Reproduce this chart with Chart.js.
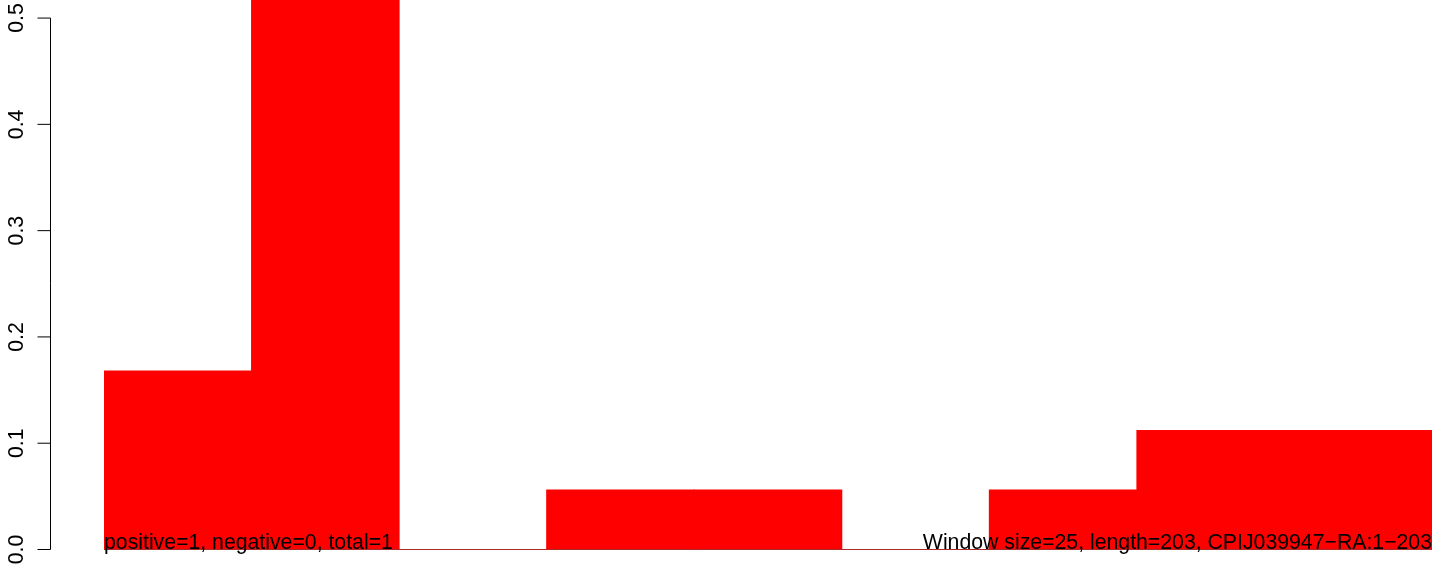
<!DOCTYPE html>
<html>
<head>
<meta charset="utf-8">
<script src="https://cdn.jsdelivr.net/npm/chart.js@4/dist/chart.umd.min.js"></script>
<style>
  html, body { margin: 0; padding: 0; background: #ffffff; }
  canvas { display: block; }
</style>
</head>
<body>
<canvas id="c" width="1444" height="571"></canvas>
<script>
// ---- data ----
const categories = ["1", "2", "3", "4", "5", "6", "7", "8", "9"];
const values = [0.168, 0.556, 0, 0.056, 0.056, 0, 0.056, 0.112, 0.112];
const yTicks = [0, 0.1, 0.2, 0.3, 0.4, 0.5];
const yTickLabels = ["0.0", "0.1", "0.2", "0.3", "0.4", "0.5"];
const leftNote = "positive=1, negative=0, total=1";
const rightNote = "Window size=25, length=203, CPIJ039947\u2212RA:1\u2212203";

const FONT = '21.25px "Liberation Sans", Arial, Helvetica, sans-serif';

const rAxisPlugin = {
  id: 'rAxis',
  beforeDatasetsDraw(chart) {
    const ctx = chart.ctx;
    const y = chart.scales.y;
    const area = chart.chartArea;
    const y0 = y.getPixelForValue(0);
    ctx.save();
    ctx.strokeStyle = '#555555';
    ctx.lineWidth = 1;
    ctx.beginPath();
    ctx.moveTo(area.left, y0);
    ctx.lineTo(area.right, y0);
    ctx.stroke();
    ctx.restore();
  },
  afterDatasetsDraw(chart) {
    const ctx = chart.ctx;
    const y = chart.scales.y;
    const area = chart.chartArea;
    const axisX = area.left - 53.5;
    ctx.save();
    ctx.strokeStyle = '#000000';
    ctx.lineWidth = 1;
    ctx.beginPath();
    ctx.moveTo(axisX, y.getPixelForValue(yTicks[0]));
    ctx.lineTo(axisX, y.getPixelForValue(yTicks[yTicks.length - 1]));
    yTicks.forEach(v => {
      const py = y.getPixelForValue(v);
      ctx.moveTo(axisX, py);
      ctx.lineTo(axisX - 13, py);
    });
    ctx.stroke();
    ctx.fillStyle = '#000000';
    ctx.font = FONT;
    yTicks.forEach((v, i) => {
      const py = y.getPixelForValue(v);
      ctx.save();
      ctx.translate(axisX - 27.5, py);
      ctx.rotate(-Math.PI / 2);
      ctx.textAlign = 'center';
      ctx.textBaseline = 'alphabetic';
      ctx.fillText(yTickLabels[i], 0, 0);
      ctx.restore();
    });
    // notes
    const base = y.getPixelForValue(0) - 1;
    ctx.textBaseline = 'alphabetic';
    ctx.textAlign = 'left';
    ctx.fillText(leftNote, area.left, base);
    ctx.textAlign = 'right';
    ctx.fillText(rightNote, area.right, base);
    ctx.restore();
  }
};

new Chart(document.getElementById('c'), {
  type: 'bar',
  data: {
    labels: categories,
    datasets: [{
      data: values,
      backgroundColor: '#ff0000',
      borderWidth: 0,
      inflateAmount: 0.5,
      barPercentage: 1.0,
      categoryPercentage: 1.0
    }]
  },
  options: {
    responsive: false,
    animation: false,
    events: [],
    layout: { padding: { left: 104, right: 12, top: 0, bottom: 21.5 } },
    plugins: { legend: { display: false }, tooltip: { enabled: false }, title: { display: false } },
    scales: {
      x: { type: 'category', display: false, offset: true, grid: { display: false } },
      y: { type: 'linear', display: false, min: 0, max: 0.517 }
    }
  },
  plugins: [rAxisPlugin]
});
</script>
</body>
</html>
